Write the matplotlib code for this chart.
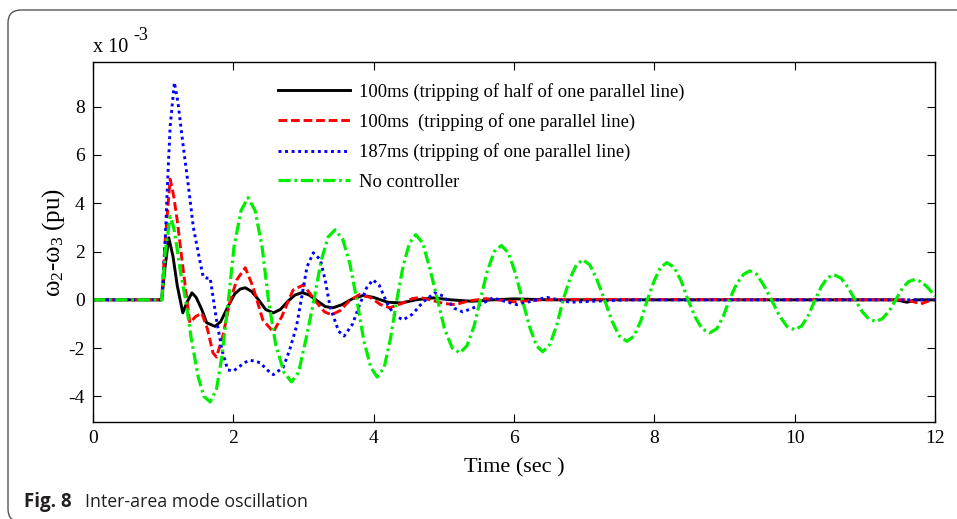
import matplotlib
matplotlib.use("Agg")
from matplotlib import pyplot as plt
from matplotlib import patches, transforms

# 100ms (tripping of half of one parallel line)
t_black = [0, 0.98, 1.02, 1.08, 1.14, 1.20, 1.28, 1.34, 1.41, 1.47, 1.55, 1.62, 1.74,
           1.82, 1.92, 2.02, 2.10, 2.17, 2.26, 2.36, 2.46, 2.57, 2.67, 2.78, 2.88, 2.98,
           3.08, 3.20, 3.31, 3.42, 3.55, 3.70, 3.85, 4.00, 4.20, 4.40, 4.60, 4.85, 5.10,
           5.40, 5.70, 6.00, 6.50, 11.45, 11.60, 11.72, 12.0]
y_black = [0, 0, 1.2, 2.57, 1.8, 0.6, -0.54, -0.1, 0.29, 0.1, -0.4, -0.95, -1.1,
           -0.9, -0.3, 0.25, 0.45, 0.5, 0.35, 0.0, -0.4, -0.54, -0.4, -0.05, 0.2, 0.3,
           0.2, -0.05, -0.28, -0.33, -0.2, 0.05, 0.18, 0.1, -0.1, -0.13, 0.0, 0.08, 0.0,
           -0.06, 0.0, 0.04, 0.0, 0.0, -0.1, 0.0, 0.0]

# 100ms (tripping of one parallel line)
t_red = [0, 0.98, 1.03, 1.10, 1.15, 1.20, 1.28, 1.38, 1.46, 1.55, 1.63, 1.71, 1.76,
         1.85, 1.95, 2.05, 2.17, 2.28, 2.42, 2.57, 2.69, 2.85, 3.00, 3.19, 3.30, 3.40,
         3.52, 3.65, 3.80, 3.95, 4.10, 4.23, 4.40, 4.55, 4.66, 4.80, 5.00, 5.16, 5.35,
         5.60, 6.00, 6.40, 7.00, 11.60, 11.80, 11.95, 12.0]
y_red = [0, 0, 2.5, 5.0, 4.3, 3.3, 1.37, -0.95, -0.7, -0.55, -1.2, -2.2, -2.37,
         -1.5, -0.1, 0.83, 1.33, 0.54, -0.83, -1.33, -0.7, 0.4, 0.62, -0.12, -0.5, -0.62,
         -0.45, -0.05, 0.22, 0.1, -0.2, -0.33, -0.15, 0.05, 0.1, 0.0, -0.15, -0.2, -0.05,
         0.05, -0.08, 0.0, 0.02, 0.0, -0.17, 0.0, 0.0]

# 187ms (tripping of one parallel line)
t_blue = [0, 0.98, 1.03, 1.06, 1.10, 1.16, 1.21, 1.28, 1.36, 1.43, 1.52, 1.57, 1.62,
          1.67, 1.76, 1.84, 1.92, 2.00, 2.07, 2.16, 2.24, 2.38, 2.48, 2.57, 2.71, 2.80,
          2.90, 2.98, 3.05, 3.14, 3.24, 3.31, 3.38, 3.50, 3.58, 3.70, 3.80, 3.90, 3.99,
          4.08, 4.20, 4.30, 4.42, 4.55, 4.70, 4.87, 5.00, 5.15, 5.27, 5.45, 5.70, 6.04,
          6.47, 6.80, 7.20, 7.60, 12.0]
y_blue = [0, 0, 2.5, 4.7, 7.2, 9.0, 8.2, 6.5, 4.7, 3.0, 1.66, 0.95, 0.9,
          0.9, -0.83, -2.1, -2.9, -2.95, -2.8, -2.6, -2.5, -2.6, -2.9, -3.1, -2.8, -2.1,
          -1.1, 0.2, 1.37, 1.95, 1.66, 0.8, -0.3, -1.3, -1.5, -1.0, -0.2, 0.5, 0.83,
          0.6, -0.2, -0.65, -0.83, -0.6, -0.1, 0.29, 0.15, -0.35, -0.5, -0.3, 0.08, -0.2,
          0.1, -0.1, -0.05, 0.0, 0.0]

# No controller
t_green = [0, 0.98, 1.03, 1.10, 1.15, 1.20, 1.25, 1.32, 1.40, 1.50, 1.58, 1.67, 1.76,
           1.84, 1.93, 2.01, 2.11, 2.21, 2.31, 2.41, 2.50, 2.60, 2.72, 2.83, 2.93, 3.03,
           3.15, 3.25, 3.35, 3.45, 3.56, 3.66, 3.76, 3.86, 3.96, 4.05, 4.15, 4.24, 4.33,
           4.42, 4.51, 4.60, 4.70, 4.80, 4.91, 5.01, 5.12, 5.23, 5.33, 5.43, 5.52, 5.62,
           5.72, 5.82, 5.92, 6.02, 6.12, 6.22, 6.32, 6.41, 6.51, 6.61, 6.70, 6.80, 6.89,
           6.98, 7.08, 7.18, 7.29, 7.40, 7.50, 7.61, 7.71, 7.81, 7.90, 8.00, 8.09, 8.18,
           8.28, 8.38, 8.48, 8.58, 8.68, 8.79, 8.89, 8.98, 9.07, 9.17, 9.27, 9.36, 9.46,
           9.56, 9.67, 9.78, 9.89, 10.00, 10.10, 10.20, 10.29, 10.38, 10.47, 10.56, 10.66,
           10.76, 10.86, 10.96, 11.06, 11.16, 11.25, 11.35, 11.44, 11.53, 11.62, 11.72,
           11.82, 11.90, 12.0]
y_green = [0, 0, 2.0, 3.45, 3.0, 2.1, 1.1, 0.0, -1.6, -3.2, -4.0, -4.23, -3.7,
           -2.3, 0.0, 2.2, 3.7, 4.23, 3.7, 2.2, 0.0, -1.8, -3.0, -3.4, -3.0, -1.7,
           0.0, 1.6, 2.6, 2.9, 2.5, 1.5, 0.0, -1.7, -2.8, -3.2, -2.8, -1.6, 0.0,
           1.4, 2.35, 2.7, 2.35, 1.3, 0.0, -1.2, -2.0, -2.2, -1.9, -1.1, 0.0, 1.2,
           2.0, 2.25, 1.95, 1.1, 0.0, -1.1, -1.9, -2.15, -1.85, -1.05, 0.0, 0.9, 1.45,
           1.66, 1.45, 0.85, 0.0, -0.9, -1.5, -1.72, -1.5, -0.85, 0.0, 0.8, 1.35, 1.54,
           1.35, 0.8, 0.0, -0.7, -1.2, -1.37, -1.2, -0.7, 0.0, 0.65, 1.05, 1.2, 1.05,
           0.6, 0.0, -0.65, -1.1, -1.24, -1.08, -0.62, 0.0, 0.55, 0.92, 1.04, 0.9,
           0.52, 0.0, -0.48, -0.8, -0.9, -0.78, -0.45, 0.0, 0.45, 0.75, 0.85,
           0.72, 0.5, 0.15]

labels = ["100ms (tripping of half of one parallel line)",
          "100ms  (tripping of one parallel line)",
          "187ms (tripping of one parallel line)",
          "No controller"]
x_ticks = [0, 2, 4, 6, 8, 10, 12]
y_ticks = [-4, -2, 0, 2, 4, 6, 8]

plt.rcParams["font.family"] = ["Liberation Serif", "DejaVu Serif"]
plt.rcParams["mathtext.fontset"] = "stix"
plt.rcParams["axes.unicode_minus"] = False

fig = plt.figure(figsize=(9.57, 5.19), dpi=100)
ax = fig.add_axes([93 / 957, 1 - 422 / 519, 842 / 957, 360 / 519])

lw = 2.1
ax.plot(t_black, y_black, color="black", lw=lw, label=labels[0])
ax.plot(t_red, y_red, color="#ff0000", lw=lw, ls=(0, (3.0, 1.3)), label=labels[1])
ax.plot(t_blue, y_blue, color="#0000ff", lw=lw, ls=(0, (1, 1.25)), label=labels[2])
ax.plot(t_green, y_green, color="#00ee00", lw=2.3, ls=(0, (3.8, 1.2, 0.8, 1.2)), label=labels[3])

ax.set_xlim(0, 12)
ax.set_ylim(-5.06, 9.85)
ax.set_xticks(x_ticks)
ax.set_yticks(y_ticks)
ax.tick_params(direction="in", length=5.5, width=0.8, top=True, right=True,
               labelsize=14, pad=6)
for s in ax.spines.values():
    s.set_linewidth(1.0)

ax.set_xlabel("Time (sec )", fontsize=16, labelpad=8)
ax.set_ylabel("ω$\\mathregular{_2}$-ω$\\mathregular{_3}$ (pu)", fontsize=18, labelpad=1)

fig.text(93 / 957, 1 - 52 / 519, "x 10", fontsize=14.5, ha="left", va="baseline")
fig.text(133 / 957, 1 - 40 / 519, "-3", fontsize=13, ha="left", va="baseline")

ax.legend(loc="upper left", bbox_to_anchor=(0.2197, 0.942), frameon=False,
          fontsize=13.4, handlelength=3.87, handletextpad=0.5, labelspacing=0.66,
          borderpad=0, borderaxespad=0)

# frame and caption
frame = patches.FancyBboxPatch((8, -3), 1000, 512, boxstyle="round,pad=0,rounding_size=13",
                               transform=transforms.IdentityTransform(), fill=False,
                               ec="#555555", lw=1.0)
fig.add_artist(frame)
fig.text(24 / 957, 1 - 507 / 519, "Fig. 8", family="Open Sans", weight="bold",
         fontsize=13.5, color="#231f20", va="baseline")
fig.text(85 / 957, 1 - 507 / 519, "Inter-area mode oscillation", family="Open Sans",
         fontsize=12.8, color="#231f20", va="baseline")

fig.savefig("out.png", dpi=100)
